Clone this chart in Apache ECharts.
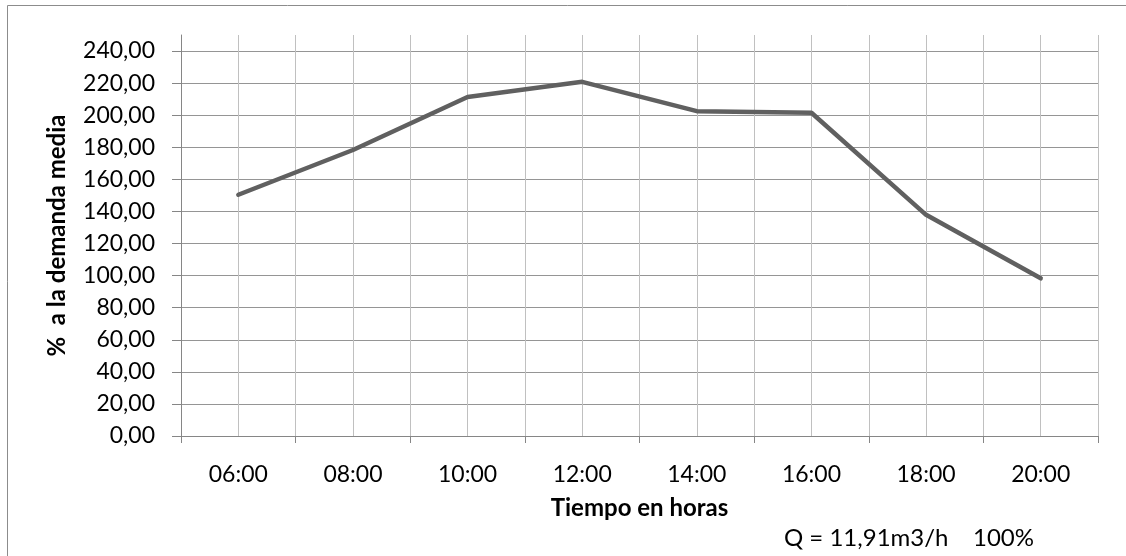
<!DOCTYPE html>
<html>
<head>
<meta charset="utf-8">
<script src="https://cdn.jsdelivr.net/npm/echarts@6/dist/echarts.min.js"></script>
<style>
  html, body { margin: 0; padding: 0; background: #fff; }
  #chart { width: 1126px; height: 556px; }
</style>
</head>
<body>
<div id="chart"></div>
<script>
// Hourly demand profile, as a percentage of mean demand
const horas = ['06:00', '08:00', '10:00', '12:00', '14:00', '16:00', '18:00', '20:00'];
const porcentajeDemanda = [150.4, 178.3, 211.3, 220.8, 202.5, 201.5, 137.9, 98.3];
const marcasEjeY = [0, 20, 40, 60, 80, 100, 120, 140, 160, 180, 200, 220, 240];

const FONT = 'Lato, "Open Sans", sans-serif';
const techoEje = 250; // plot area reaches half a step above the last labelled value

const chart = echarts.init(document.getElementById('chart'), null, { renderer: 'canvas' });

// horizontal grid colours: one per labelled value, the ceiling line hidden
const coloresRejilla = marcasEjeY.map(() => '#959595').concat(['rgba(0,0,0,0)']);

chart.setOption({
  animation: false,
  backgroundColor: '#ffffff',
  graphic: [{
    type: 'rect',
    shape: { x: 7.5, y: 5.5, width: 1140, height: 600 },
    style: { fill: 'none', stroke: '#8c8c8c', lineWidth: 1 },
    silent: true,
    z: 0
  }],
  grid: { left: 181, right: 28, top: 35, bottom: 120, containLabel: false },
  xAxis: [{
    type: 'category',
    data: horas,
    boundaryGap: true,
    name: 'Tiempo en horas',
    nameLocation: 'middle',
    nameGap: 60,
    nameTextStyle: { fontFamily: FONT, fontSize: 24, fontWeight: 'bold', color: '#000' },
    axisLine: { show: true, lineStyle: { color: '#868686', width: 1 } },
    axisTick: { show: true, alignWithLabel: false, length: 7, lineStyle: { color: '#868686' } },
    axisLabel: { fontFamily: FONT, fontSize: 23, color: '#000', margin: 27 },
    splitLine: { show: true, lineStyle: { color: '#c0c0c0', width: 1 } }
  }, {
    // subdivision lines through the middle of every category
    type: 'value',
    min: 0,
    max: horas.length * 2,
    interval: 1,
    position: 'bottom',
    show: true,
    axisLine: { show: false },
    axisTick: { show: false },
    axisLabel: { show: false },
    splitLine: { show: true, lineStyle: { color: '#c0c0c0', width: 1 } }
  }],
  yAxis: {
    type: 'value',
    min: 0,
    max: techoEje,
    interval: 20,
    name: '%  a la demanda media',
    nameLocation: 'middle',
    nameGap: 112,
    nameRotate: 90,
    nameTextStyle: { fontFamily: FONT, fontSize: 24, fontWeight: 'bold', color: '#000' },
    axisLine: { show: true, lineStyle: { color: '#868686', width: 1 } },
    axisTick: { show: true, length: 9, customValues: marcasEjeY, lineStyle: { color: '#868686' } },
    axisLabel: {
      fontFamily: FONT, fontSize: 23, color: '#000', margin: 26,
      customValues: marcasEjeY,
      formatter: v => v > 240 ? '' : v.toFixed(2).replace('.', ',')
    },
    splitLine: { show: true, lineStyle: { color: coloresRejilla, width: 1 } }
  },
  series: [{
    type: 'line',
    xAxisIndex: 0,
    data: porcentajeDemanda,
    symbol: 'none',
    lineStyle: { color: '#606060', width: 4.5, cap: 'round', join: 'round' },
    z: 5
  }],
  title: {
    text: 'Q = 11,91m3/h    100%',
    left: 779,
    top: 521,
    textStyle: { fontFamily: FONT, fontSize: 24, fontWeight: 'normal', color: '#000' }
  }
});
</script>
</body>
</html>
